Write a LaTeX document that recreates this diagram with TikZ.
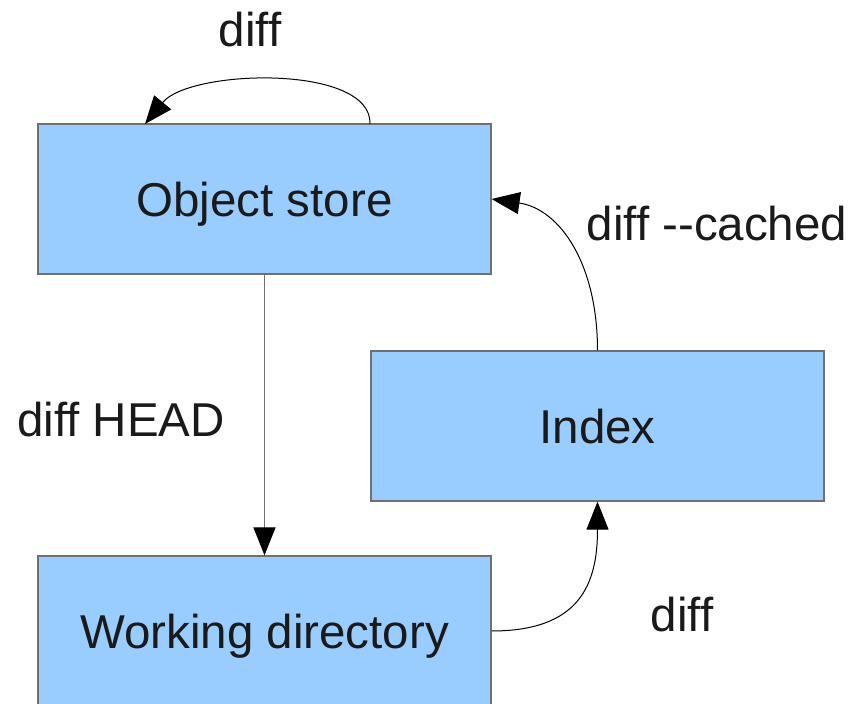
\documentclass[tikz,border=0pt]{standalone}
\usepackage{fontspec}
\setmainfont{Liberation Sans}[Ligatures={TeXOff,CommonOff}]
\usetikzlibrary{arrows.meta}
\definecolor{boxfill}{HTML}{99CCFF}
\definecolor{boxline}{HTML}{707070}
\definecolor{txt}{HTML}{1A1A1A}
\begin{document}
\begin{tikzpicture}[x=1pt,y=1pt,
  store/.style={draw=boxline,line width=1.3pt,fill=boxfill,minimum width=453pt,minimum height=150pt,inner sep=0pt,text depth=0pt,text=txt,font=\fontsize{47.5}{56}\selectfont},
  lbl/.style={text=txt,inner sep=0pt,font=\fontsize{47.5}{56}\selectfont},
  conn/.style={line width=1pt,-{Triangle[length=28pt,width=22pt,black]}},
]
\useasboundingbox (0,0) rectangle (865,704);
\node[store] (obj) at (264.5,505) {Object store};
\node[store] (idx) at (597.5,278) {Index};
\node[store] (wd) at (264.5,73) {Working directory};
\coordinate (objtop1) at (370,580);
\coordinate (objtop2) at (145,580);
\node[lbl] (l1) at (250,674) {diff};
\node[lbl] (l2) at (121,284) {diff HEAD};
\node[lbl] (l3) at (717,480) {diff --cached};
\node[lbl] (l4) at (682,89) {diff};
\draw[conn] (objtop1) .. controls (372,640) and (190,635) .. (objtop2);
\draw[conn,draw=boxline,line width=1.3pt] (obj.south) -- (wd.north);
\draw[conn] (idx.north) .. controls (597.5,440) and (560,495) .. (obj.east);
\draw[conn] (wd.east) .. controls (580,73) and (597.5,120) .. (idx.south);
\end{tikzpicture}
\end{document}
